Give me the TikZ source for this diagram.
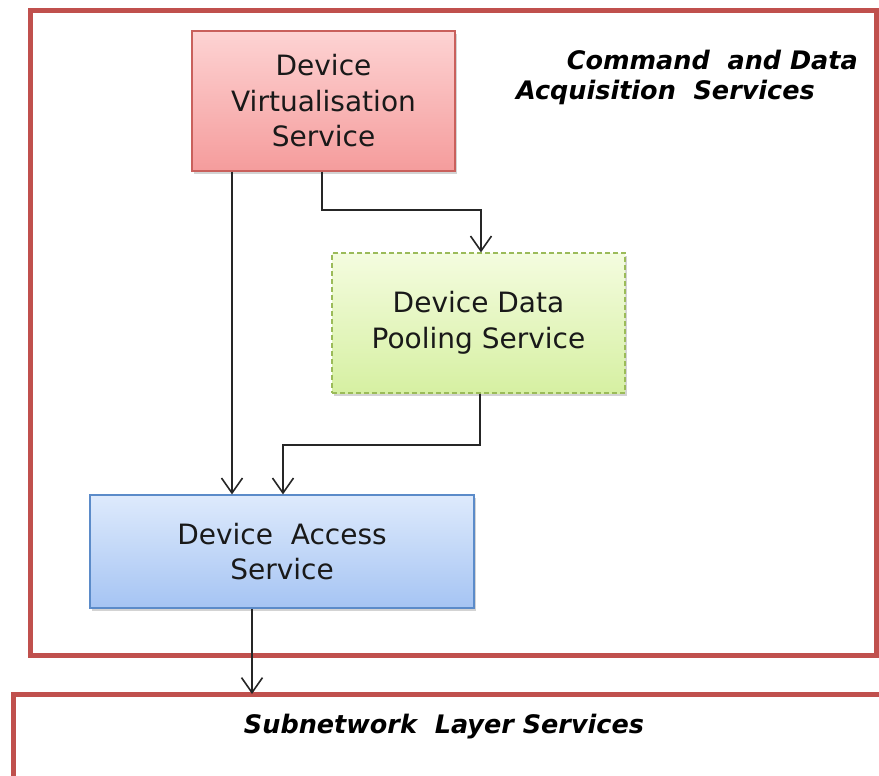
\documentclass[tikz,border=0pt]{standalone}
\usepackage{fontspec}
\setmainfont{DejaVu Sans}
\usetikzlibrary{arrows.meta,shadows}
\definecolor{frame}{HTML}{C0504D}
\definecolor{redtop}{HTML}{FDD3D3}
\definecolor{redbot}{HTML}{F59C9C}
\definecolor{redline}{HTML}{C9605C}
\definecolor{greentop}{HTML}{F4FCDF}
\definecolor{greenbot}{HTML}{D6F0A2}
\definecolor{greenline}{HTML}{9BBB59}
\definecolor{bluetop}{HTML}{DEEAFC}
\definecolor{bluebot}{HTML}{A5C4F3}
\definecolor{blueline}{HTML}{5B8BC9}
\tikzset{
  svc/.style={draw, line width=1.2pt, align=center, inner sep=0pt,
    text=black!90, font=\fontsize{28}{35.5}\selectfont,
    drop shadow={shadow xshift=2pt, shadow yshift=-3pt, opacity=0.35}},
  layer/.style={draw=frame, line width=5pt},
  link/.style={draw=black!85, line width=1.6pt,
    -{Straight Barb[length=15pt,width=21pt]}},
  caption/.style={font=\fontsize{25.5}{32}\selectfont\bfseries\itshape, inner sep=0pt}
}
\begin{document}
\begin{tikzpicture}[x=1pt,y=-1pt]
\useasboundingbox (0,0) rectangle (879,776);
% outer layers
\draw[layer] (30,11) rectangle (876,655);
\draw[layer] (13,694) rectangle (890,800);
\node[caption, anchor=east] (cmd1) at (858,60) {Command\ \ and Data};
\node[caption, anchor=east] (cmd2) at (815,92) {Acquisition\ \ Services};
\node[caption] (sub) at (444,727) {Subnetwork\ \ Layer Services};
% service boxes
\node[svc, draw=redline, top color=redtop, bottom color=redbot,
      minimum width=263pt, minimum height=140pt] (dvs) at (323.5,101) {Device\\Virtualisation\\Service};
\node[svc, draw=greenline, dashed, dash pattern=on 5pt off 3pt, top color=greentop, bottom color=greenbot,
      minimum width=293pt, minimum height=140pt] (ddp) at (478.5,323) {Device Data\\Pooling Service};
\node[svc, draw=blueline, top color=bluetop, bottom color=bluebot,
      minimum width=384pt, minimum height=113pt] (das) at (282,551.5) {Device\ \ Access\\Service};
\coordinate (subtop) at (252,694);
% connectors
\draw[link] (dvs.south -| 232,0) -- (das.north -| 232,0);
\draw[link] (dvs.south -| 322,0) |- (400,210) -| (ddp.north -| 481,0);
\draw[link] (ddp.south -| 480,0) |- (400,445) -| (das.north -| 283,0);
\draw[link] (das.south -| 252,0) -- (subtop);
\end{tikzpicture}
\end{document}
